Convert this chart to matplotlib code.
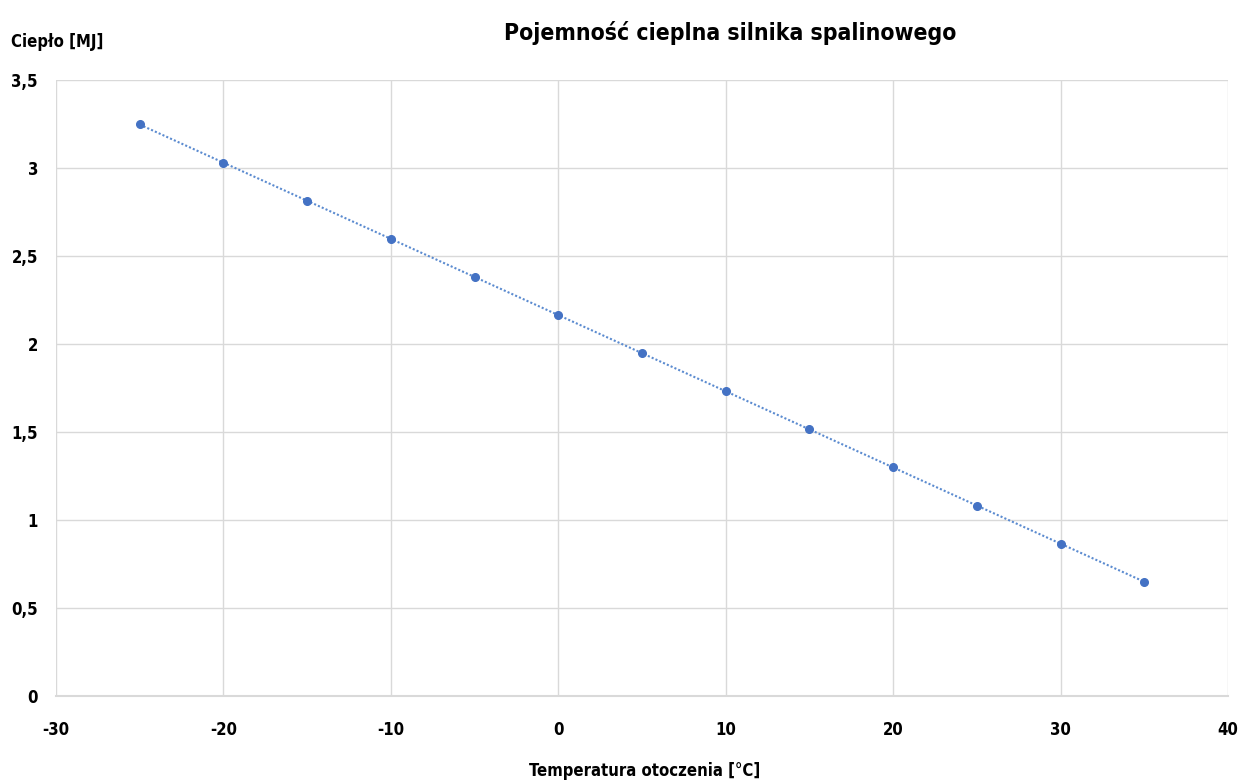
import numpy as np
import matplotlib
matplotlib.use('Agg')
from matplotlib import pyplot as plt
from matplotlib import font_manager

# pick a narrow face if one is around, else condensed DejaVu
names = {f.name for f in font_manager.fontManager.ttflist}
if 'Liberation Sans Narrow' in names:
  family, stretch = 'Liberation Sans Narrow', 'normal'
else:
  family, stretch = 'DejaVu Sans', 'condensed'
plt.rcParams['font.family'] = [family, 'DejaVu Sans']
plt.rcParams['font.stretch'] = stretch
plt.rcParams['axes.unicode_minus'] = False

# ambient temperature [C] and heat [MJ]
temps = [-25, -20, -15, -10, -5, 0, 5, 10, 15, 20, 25, 30, 35]
heat = [3.25, 3.03, 2.81, 2.595, 2.38, 2.165, 1.95, 1.733, 1.517, 1.30, 1.08, 0.865, 0.648]

xticks = [-30, -20, -10, 0, 10, 20, 30, 40]
yticks = [0, 0.5, 1, 1.5, 2, 2.5, 3, 3.5]
ytick_labels = ['0', '0,5', '1', '1,5', '2', '2,5', '3', '3,5']

blue = '#4472c4'
grid_col = '#d9d9d9'

fig = plt.figure(figsize=(12.39, 7.84), dpi=100)
ax = fig.add_axes([56/1239, 88/784, (1228-56)/1239, (696-80)/784])

# linear trend line
a, b = np.polyfit(temps, heat, 1)
tx = np.array([temps[0], temps[-1]])
ax.plot(tx, a*tx + b, linestyle=(0, (1, 1)), color='#5b8bd0', lw=1.5, zorder=2)
ax.plot(temps, heat, 'o', color=blue, ms=5.5, zorder=3)

ax.set_xlim(-30, 40)
ax.set_ylim(0, 3.5)
ax.set_xticks(xticks)
ax.set_yticks(yticks)
ax.set_yticklabels(ytick_labels)
ax.grid(True, color=grid_col, lw=1)
ax.set_axisbelow(True)
for s in ['top', 'right', 'left']:
  ax.spines[s].set_visible(False)
ax.spines['bottom'].set_color(grid_col)
ax.spines['bottom'].set_linewidth(1.5)
ax.tick_params(length=0, labelsize=12, pad=13)
ax.tick_params(axis='x', pad=18)
for lab in ax.get_xticklabels() + ax.get_yticklabels():
  lab.set_fontweight('bold')

fig.text(730/1239, 1 - 33/784, 'Pojemność cieplna silnika spalinowego', ha='center', va='center',
         fontsize=16.5, fontweight='bold')
fig.text(11/1239, 1 - 42/784, 'Ciepło [MJ]', ha='left', va='center', fontsize=12, fontweight='bold')
fig.text(645/1239, 1 - 771/784, 'Temperatura otoczenia [°C]', ha='center', va='center',
         fontsize=12, fontweight='bold')

fig.savefig('out.png', dpi=100)
